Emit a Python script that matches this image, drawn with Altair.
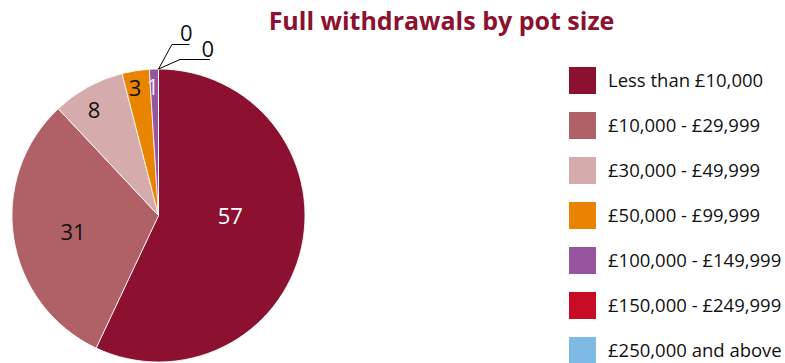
import math
import altair as alt
import pandas as pd

# ---- data ----
categories = [
    "Less than £10,000",
    "£10,000 - £29,999",
    "£30,000 - £49,999",
    "£50,000 - £99,999",
    "£100,000 - £149,999",
    "£150,000 - £249,999",
    "£250,000 and above",
]
values = [57, 31, 8, 3, 1, 0, 0]
title_text = "Full withdrawals by pot size"

# ---- styles / layout ----
colors = ["#8C1131", "#B06166", "#D6ABAB", "#E88400", "#97559D", "#C90C25", "#7EBAE4"]
label_fill = ["white", "black", "black", "black", "#F0E6F2", "black", "black"]
W, H = 785, 363
CX, CY, R = 158.5, 215.5, 146.5
FONT = "Open Sans"
# radial position of inside labels (fraction of radius) and small angle nudges (deg)
label_rfrac = [0.49, 0.594, 0.845, 0.885, 0.878]
label_nudge = [-12.6, -2.0, -2.6, -1.4, -0.7]
# leader-line offsets for zero-value labels: (elbow dx, elbow dy, end dx, label dx, label dy)
leader = [(13.4, -24.5, 31.0, -3.3, -4.0), (21.5, -9.5, 51.5, -2.3, -2.6)]

total = float(sum(values))
df = pd.DataFrame({"category": categories, "value": values, "order": list(range(len(values)))})

cum = 0.0
lab_rows, lead_rows, zero_rows = [], [], []
zi = 0
for i, (c, v) in enumerate(zip(categories, values)):
    start = cum / total * 2 * math.pi
    mid = (cum + v / 2) / total * 2 * math.pi
    cum += v
    if v > 0:
        a = mid + math.radians(label_nudge[i])
        r = R * label_rfrac[i]
        lab_rows.append({
            "px": CX + r * math.sin(a),
            "py": CY - r * math.cos(a) + 8.0,
            "txt": str(v),
            "fill": label_fill[i],
        })
    else:
        sx, sy = CX + R * math.sin(start), CY - R * math.cos(start)
        edx, edy, endx, ldx, ldy = leader[zi]
        pts = [(sx, sy), (sx + edx, sy + edy), (sx + endx, sy + edy)]
        for k, (x, y) in enumerate(pts):
            lead_rows.append({"px": x, "py": y, "k": k, "grp": c})
        zero_rows.append({"px": sx + endx + ldx, "py": sy + edy + ldy, "txt": str(v)})
        zi += 1

lab = pd.DataFrame(lab_rows)
lead = pd.DataFrame(lead_rows)
zero = pd.DataFrame(zero_rows)

xs = alt.Scale(domain=[0, W], nice=False, zero=False)
ys = alt.Scale(domain=[0, H], nice=False, zero=False, reverse=True)

arc = alt.Chart(df).mark_arc(outerRadius=R, stroke="white", strokeWidth=0.8).encode(
    theta=alt.Theta("value:Q", stack=True),
    color=alt.Color(
        "category:N",
        scale=alt.Scale(domain=categories, range=colors),
        sort=categories,
        legend=alt.Legend(
            title=None,
            orient="none",
            legendX=569,
            legendY=67,
            symbolType="square",
            symbolSize=729,
            symbolStrokeWidth=0,
            symbolOpacity=1,
            labelFont=FONT,
            labelFontSize=18.5,
            labelColor="#111111",
            labelOffset=12,
            labelLimit=400,
            rowPadding=18,
            padding=0,
        ),
    ),
    order=alt.Order("order:Q"),
    x=alt.value(CX),
    y=alt.value(CY),
)

white_lab = alt.Chart(lab[lab["fill"] != "black"]).mark_text(
    font=FONT, fontSize=22, align="center", baseline="alphabetic"
).encode(
    x=alt.X("px:Q", scale=xs, axis=None),
    y=alt.Y("py:Q", scale=ys, axis=None),
    text="txt:N",
    fill=alt.Fill("fill:N", scale=None),
)
black_lab = alt.Chart(lab[lab["fill"] == "black"]).mark_text(
    font=FONT, fontSize=22, align="center", baseline="alphabetic", fill="#111111"
).encode(
    x=alt.X("px:Q", scale=xs, axis=None),
    y=alt.Y("py:Q", scale=ys, axis=None),
    text="txt:N",
)

lines = alt.Chart(lead).mark_line(color="black", strokeWidth=1).encode(
    x=alt.X("px:Q", scale=xs, axis=None),
    y=alt.Y("py:Q", scale=ys, axis=None),
    detail="grp:N",
    order="k:Q",
)

zero_lab = alt.Chart(zero).mark_text(
    font=FONT, fontSize=22, align="center", baseline="alphabetic", fill="#111111"
).encode(
    x=alt.X("px:Q", scale=xs, axis=None),
    y=alt.Y("py:Q", scale=ys, axis=None),
    text="txt:N",
)

title = alt.Chart(pd.DataFrame({"t": [title_text]})).mark_text(
    font=FONT, fontSize=25, fontWeight="bold", color="#8C1131",
    align="center", baseline="alphabetic",
).encode(
    x=alt.value(441.5),
    y=alt.value(30),
    text="t:N",
)

chart = alt.layer(arc, white_lab, black_lab, lines, zero_lab, title).properties(
    width=W, height=H, padding=0, autosize=alt.AutoSizeParams(type="none"),
    background="white",
).configure_view(stroke=None)

chart.save("out.html", embed_options={"renderer": "svg", "actions": False})
